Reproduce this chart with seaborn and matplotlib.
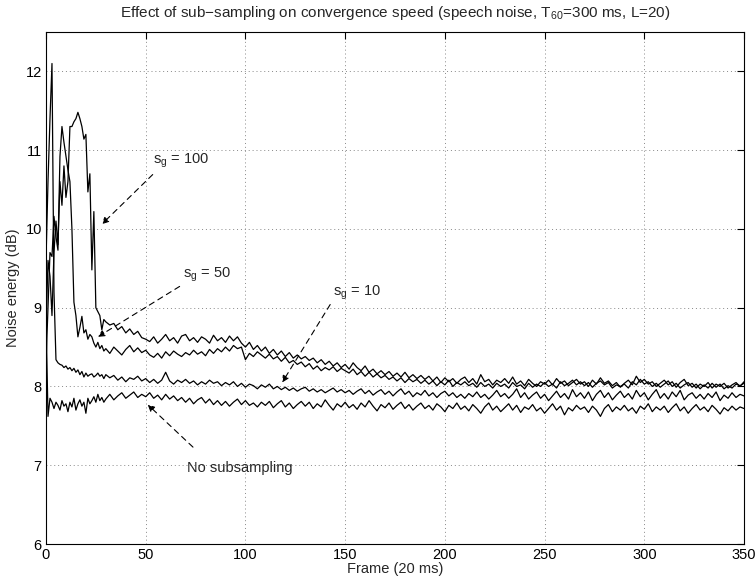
import matplotlib
matplotlib.use("Agg")
import matplotlib.pyplot as plt
import seaborn as sns
import pandas as pd

# frame index: every frame for the first 30, then every 2nd frame
frames = list(range(0, 30)) + list(range(30, 351, 2))

# s_g = 100
sg100 = [
    8.70, 9.60, 9.40, 8.90, 9.70, 10.10, 9.80, 10.60, 10.30, 10.80,
    10.40, 10.60, 11.30, 11.30, 11.36, 11.40, 11.48, 11.40, 11.30, 11.14,
    11.20, 10.47, 10.70, 9.48, 10.22, 9.00, 8.95, 8.90, 8.72, 8.85,
    8.82, 8.78, 8.80, 8.72, 8.76, 8.68, 8.73, 8.66, 8.70, 8.62,
    8.60, 8.57, 8.63, 8.55, 8.60, 8.66, 8.58, 8.62, 8.55, 8.64,
    8.66, 8.58, 8.62, 8.56, 8.63, 8.60, 8.55, 8.65, 8.58, 8.62,
    8.56, 8.64, 8.58, 8.63, 8.55, 8.50, 8.56, 8.47, 8.52, 8.45,
    8.50, 8.42, 8.47, 8.40, 8.45, 8.38, 8.43, 8.36, 8.40, 8.35,
    8.38, 8.33, 8.36, 8.30, 8.34, 8.28, 8.32, 8.26, 8.30, 8.24,
    8.28, 8.22, 8.30, 8.24, 8.20, 8.26, 8.18, 8.22, 8.16, 8.20,
    8.15, 8.19, 8.13, 8.17, 8.12, 8.18, 8.11, 8.15, 8.10, 8.14,
    8.09, 8.13, 8.07, 8.12, 8.05, 8.11, 8.06, 8.10, 8.04, 8.09,
    8.12, 8.05, 8.10, 8.03, 8.15, 8.06, 8.09, 8.02, 8.08, 8.05,
    8.10, 8.04, 8.12, 8.03, 8.07, 8.01, 8.09, 8.04, 8.00, 8.06,
    8.03, 8.08, 8.02, 8.10, 8.04, 8.07, 8.01, 8.05, 8.09, 8.03,
    8.06, 8.00, 8.08, 8.03, 8.11, 8.04, 8.07, 8.01, 8.05, 7.99,
    8.04, 8.08, 8.02, 8.13, 8.05, 8.09, 8.03, 8.06, 8.00, 8.04,
    8.08, 8.02, 8.06, 7.99, 8.05, 8.09, 8.01, 8.04, 7.98, 8.03,
    8.00, 8.05, 7.98, 8.03, 8.00, 8.04, 7.98, 8.02, 8.05, 8.00,
    8.06,
]

# s_g = 50
sg50 = [
    8.30, 9.00, 9.70, 9.65, 10.16, 9.90, 9.73, 10.92, 11.30, 11.10,
    10.92, 10.75, 10.60, 10.00, 9.07, 8.90, 8.63, 8.75, 8.89, 8.68,
    8.72, 8.60, 8.66, 8.63, 8.55, 8.50, 8.56, 8.48, 8.52, 8.45,
    8.48, 8.42, 8.50, 8.45, 8.40, 8.47, 8.52, 8.44, 8.49, 8.43,
    8.46, 8.40, 8.37, 8.42, 8.36, 8.44, 8.39, 8.45, 8.41, 8.38,
    8.43, 8.40, 8.46, 8.41, 8.44, 8.39, 8.47, 8.42, 8.48, 8.44,
    8.50, 8.45, 8.52, 8.48, 8.50, 8.34, 8.42, 8.38, 8.44, 8.40,
    8.36, 8.41, 8.35, 8.38, 8.32, 8.37, 8.30, 8.33, 8.28, 8.31,
    8.25, 8.29, 8.22, 8.26, 8.20, 8.24, 8.21, 8.25, 8.19, 8.23,
    8.20, 8.17, 8.22, 8.15, 8.19, 8.13, 8.18, 8.12, 8.16, 8.11,
    8.14, 8.09, 8.12, 8.07, 8.11, 8.05, 8.10, 8.06, 8.09, 8.04,
    8.08, 8.03, 8.07, 8.01, 8.06, 8.02, 8.08, 8.00, 8.05, 8.02,
    8.06, 8.01, 8.04, 7.99, 8.05, 8.00, 8.03, 7.98, 8.04, 8.00,
    8.03, 7.98, 8.05, 8.00, 8.02, 7.97, 8.04, 7.99, 8.03, 8.00,
    8.05, 8.00, 8.03, 7.98, 8.06, 8.01, 8.04, 8.08, 8.02, 8.06,
    8.01, 8.05, 7.99, 8.04, 8.07, 8.02, 8.05, 7.98, 8.02, 8.00,
    8.03, 7.98, 8.06, 8.02, 8.09, 8.03, 8.06, 8.00, 8.04, 7.99,
    8.03, 8.07, 8.00, 8.04, 7.98, 8.02, 8.05, 7.99, 8.03, 7.97,
    8.02, 7.98, 8.04, 7.99, 8.03, 7.97, 8.01, 7.98, 8.03, 8.01,
    8.04,
]

# s_g = 10
sg10 = [
    9.60, 10.60, 11.40, 12.10, 9.20, 8.34, 8.30, 8.28, 8.27, 8.24,
    8.26, 8.22, 8.24, 8.20, 8.23, 8.18, 8.21, 8.15, 8.19, 8.12,
    8.17, 8.13, 8.15, 8.16, 8.12, 8.14, 8.17, 8.13, 8.15, 8.10,
    8.15, 8.11, 8.14, 8.08, 8.12, 8.06, 8.11, 8.09, 8.13, 8.07,
    8.10, 8.05, 8.09, 8.04, 8.08, 8.18, 8.07, 8.03, 8.08, 8.05,
    8.09, 8.04, 8.07, 8.02, 8.06, 8.03, 8.08, 8.04, 8.06, 8.01,
    8.05, 8.02, 8.06, 8.00, 8.04, 7.99, 8.03, 8.01, 7.97, 8.02,
    7.99, 8.03, 7.97, 8.00, 7.96, 7.99, 7.95, 7.98, 7.94, 7.97,
    7.99, 7.94, 7.97, 7.93, 7.96, 7.92, 7.95, 7.98, 7.93, 7.96,
    7.92, 7.95, 7.90, 7.94, 7.97, 7.91, 7.95, 7.89, 7.93, 7.96,
    7.90, 7.94, 7.88, 7.93, 7.97, 7.90, 7.94, 7.87, 7.92, 7.89,
    7.95, 7.88, 7.92, 7.86, 7.91, 7.94, 7.88, 7.92, 7.86, 7.90,
    7.85, 7.91, 7.87, 7.93, 7.86, 7.90, 7.84, 7.89, 7.95, 7.87,
    7.91, 7.85, 7.90, 7.97, 7.86, 7.92, 7.84, 7.89, 7.93, 7.85,
    7.90, 7.82, 7.88, 7.94, 7.86, 7.91, 7.84, 7.96, 7.87, 7.92,
    7.85, 7.93, 7.82, 7.90, 7.95, 7.86, 7.92, 7.83, 7.89, 7.94,
    7.86, 7.91, 7.84, 7.95, 7.87, 7.92, 7.83, 7.90, 7.96, 7.85,
    7.91, 7.84, 7.93, 7.87, 7.95, 7.83, 7.89, 7.92, 7.85, 7.90,
    7.84, 7.91, 7.86, 7.93, 7.82, 7.89, 7.85, 7.92, 7.86, 7.90,
    7.88,
]

# no subsampling
nosub = [
    8.90, 7.62, 7.85, 7.80, 7.72, 7.80, 7.76, 7.70, 7.82, 7.75,
    7.78, 7.68, 7.80, 7.74, 7.85, 7.70, 7.78, 7.83, 7.75, 7.80,
    7.66, 7.85, 7.78, 7.82, 7.87, 7.80, 7.90, 7.82, 7.86, 7.80,
    7.84, 7.90, 7.83, 7.88, 7.92, 7.85, 7.89, 7.93, 7.86, 7.90,
    7.87, 7.92, 7.85, 7.89, 7.83, 7.90, 7.84, 7.88, 7.82, 7.86,
    7.80, 7.85, 7.78, 7.83, 7.86, 7.79, 7.84, 7.77, 7.82, 7.76,
    7.81, 7.75, 7.80, 7.84, 7.77, 7.82, 7.76, 7.79, 7.74, 7.80,
    7.76, 7.81, 7.73, 7.78, 7.82, 7.74, 7.79, 7.72, 7.77, 7.81,
    7.75, 7.80, 7.72, 7.78, 7.74, 7.83, 7.76, 7.70, 7.78, 7.74,
    7.80, 7.73, 7.77, 7.71, 7.79, 7.74, 7.82, 7.75, 7.69, 7.77,
    7.73, 7.79, 7.71, 7.76, 7.80, 7.72, 7.77, 7.70, 7.75, 7.79,
    7.72, 7.76, 7.70, 7.78, 7.74, 7.68, 7.76, 7.72, 7.79, 7.71,
    7.75, 7.69, 7.77, 7.72, 7.66, 7.74, 7.79, 7.70, 7.75, 7.68,
    7.73, 7.78, 7.70, 7.76, 7.67, 7.74, 7.71, 7.77, 7.69, 7.73,
    7.66, 7.72, 7.78, 7.70, 7.75, 7.64, 7.73, 7.69, 7.76, 7.71,
    7.74, 7.67, 7.75, 7.70, 7.62, 7.72, 7.77, 7.68, 7.74, 7.70,
    7.76, 7.69, 7.73, 7.66, 7.75, 7.71, 7.78, 7.68, 7.74, 7.70,
    7.75, 7.67, 7.73, 7.78, 7.69, 7.74, 7.66, 7.72, 7.77, 7.70,
    7.74, 7.68, 7.76, 7.71, 7.65, 7.73, 7.69, 7.75, 7.70, 7.74,
    7.72,
]

series = {"sg100": sg100, "sg50": sg50, "sg10": sg10, "nosub": nosub}

xticks = [0, 50, 100, 150, 200, 250, 300, 350]
yticks = [6, 7, 8, 9, 10, 11, 12]

sns.set_theme(style="white")
plt.rcParams["font.family"] = ["Liberation Sans", "DejaVu Sans"]
plt.rcParams["mathtext.fontset"] = "custom"
plt.rcParams["mathtext.rm"] = "Liberation Sans"
fs = 10.5

fig = plt.figure(figsize=(7.55, 5.88), dpi=100)
ax = fig.add_axes([46 / 755, 44 / 588, (744 - 46) / 755, (544 - 32) / 588])

for name, vals in series.items():
    df = pd.DataFrame({"frame": frames, "energy": vals})
    sns.lineplot(data=df, x="frame", y="energy", ax=ax, color="black",
                 lw=0.9, estimator=None, sort=False)

ax.set_xlim(0, 350)
ax.set_ylim(6, 12.5)
ax.set_xticks(xticks)
ax.set_yticks(yticks)
ax.tick_params(direction="in", length=5, width=0.8, top=True, right=True,
               labelsize=fs, colors="black", pad=3)
ax.grid(True, color="#888888", linestyle=(0, (1, 3)), lw=0.7)
for s in ax.spines.values():
    s.set_color("black")
    s.set_linewidth(0.8)

ax.set_xlabel("Frame (20 ms)", fontsize=fs, labelpad=0)
ax.set_ylabel("Noise energy (dB)", fontsize=fs, labelpad=4)
ax.set_title("Effect of sub\u2212sampling on convergence speed (speech noise, "
             r"T$_{60}$=300 ms, L=20)", fontsize=11, pad=11)

arrow = dict(arrowstyle="-|>", linestyle=(0, (5, 4)), color="black",
             lw=0.8, mutation_scale=10, shrinkA=0, shrinkB=0)

# labels with dashed arrows
ax.annotate("", xy=(28, 10.06), xytext=(53.5, 10.69), arrowprops=arrow)
ax.text(53.7, 10.86, r"s$_{\rm g}$ = 100", fontsize=fs, va="center", ha="left")

ax.annotate("", xy=(26, 8.63), xytext=(67, 9.27), arrowprops=arrow)
ax.text(68.5, 9.42, r"s$_{\rm g}$ = 50", fontsize=fs, va="center", ha="left")

ax.annotate("", xy=(118.4, 8.05), xytext=(142.5, 9.04), arrowprops=arrow)
ax.text(144, 9.19, r"s$_{\rm g}$ = 10", fontsize=fs, va="center", ha="left")

ax.annotate("", xy=(51, 7.77), xytext=(73.7, 7.23), arrowprops=arrow)
ax.text(70.7, 6.97, "No subsampling", fontsize=fs, va="center", ha="left")

fig.savefig("out.png", dpi=100)
